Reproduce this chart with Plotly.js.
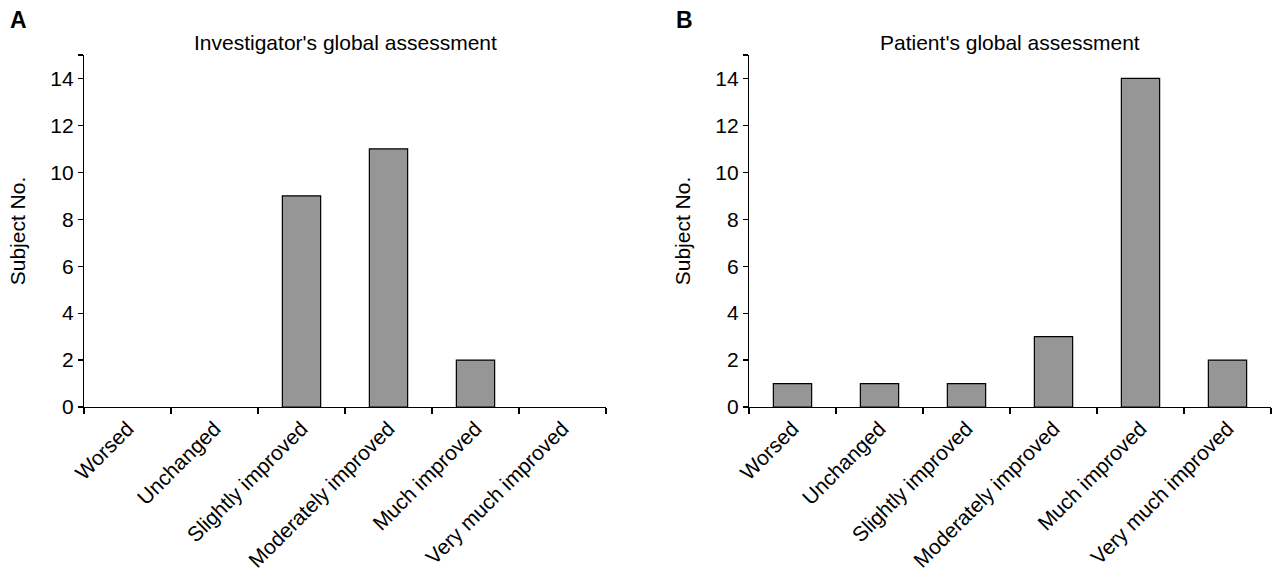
<!DOCTYPE html>
<html>
<head>
<meta charset="utf-8">
<script src="https://cdn.plot.ly/plotly-3.0.1.min.js"></script>
<style>html,body{margin:0;padding:0;background:#fff;}#chart{width:1276px;height:571px;}</style>
</head>
<body>
<div id="chart"></div>
<script>
const categories = ["Worsed", "Unchanged", "Slightly improved", "Moderately improved", "Much improved", "Very much improved"];
const investigatorValues = [0, 0, 9, 11, 2, 0];
const patientValues = [1, 1, 1, 3, 14, 2];
const yTickVals = [0, 2, 4, 6, 8, 10, 12, 14, 15];
const yTickText = ["0", "2", "4", "6", "8", "10", "12", "14", ""];
const panelTitles = ["Investigator's global assessment", "Patient's global assessment"];
const panelLetters = ["A", "B"];
const yTitle = "Subject No.";

const FONT = "Liberation Sans, Arial, sans-serif";
const FS = 21;
const barStyle = {color: "#969696", line: {color: "#000", width: 1.2}};
// zero-valued bars are not drawn in the original (no outline)
const hideZero = v => (v === 0 ? null : v);

const traces = [
  {type: "bar", x: categories, y: investigatorValues.map(hideZero), width: 0.44, marker: barStyle, xaxis: "x", yaxis: "y"},
  {type: "bar", x: categories, y: patientValues.map(hideZero), width: 0.44, marker: barStyle, xaxis: "x2", yaxis: "y2"}
];

function xax(domain, anchor) {
  return {
    domain: domain, anchor: anchor, type: "category",
    showline: true, linecolor: "#000", linewidth: 1.2,
    ticks: "outside", tickson: "boundaries", ticklen: 6, tickcolor: "#000", tickwidth: 1.2,
    tickangle: -45, tickfont: {family: FONT, size: FS, color: "#000"},
    showgrid: false, zeroline: false, fixedrange: true
  };
}
function yax(anchor) {
  return {
    domain: [0, 1], anchor: anchor, range: [0, 15],
    tickvals: yTickVals, ticktext: yTickText,
    showline: true, linecolor: "#000", linewidth: 1.2,
    ticks: "outside", ticklen: 5, tickcolor: "#000", tickwidth: 1.2,
    tickfont: {family: FONT, size: FS, color: "#000"},
    showgrid: false, zeroline: false, fixedrange: true,
    title: {text: yTitle, font: {family: FONT, size: FS, color: "#000"}, standoff: 18}
  };
}

const layout = {
  width: 1276, height: 571,
  margin: {l: 0, r: 0, t: 55, b: 164},
  paper_bgcolor: "#fff", plot_bgcolor: "#fff",
  showlegend: false, bargap: 0.5,
  font: {family: FONT, color: "#000"},
  xaxis: xax([84/1276, 606/1276], "y"),
  yaxis: yax("x"),
  xaxis2: xax([749/1276, 1271/1276], "y2"),
  yaxis2: yax("x2"),
  annotations: [
    {text: panelTitles[0], xref: "paper", yref: "paper", x: 345/1276, y: 1, yshift: 13, xanchor: "center", yanchor: "middle", showarrow: false, font: {family: FONT, size: FS, color: "#000"}},
    {text: panelTitles[1], xref: "paper", yref: "paper", x: 1010/1276, y: 1, yshift: 13, xanchor: "center", yanchor: "middle", showarrow: false, font: {family: FONT, size: FS, color: "#000"}},
    {text: "<b>" + panelLetters[0] + "</b>", xref: "paper", yref: "paper", x: 8/1276, y: 1, yshift: 35, xanchor: "left", yanchor: "middle", showarrow: false, font: {family: FONT, size: 23, color: "#000"}},
    {text: "<b>" + panelLetters[1] + "</b>", xref: "paper", yref: "paper", x: 674/1276, y: 1, yshift: 35, xanchor: "left", yanchor: "middle", showarrow: false, font: {family: FONT, size: 23, color: "#000"}}
  ]
};

Plotly.newPlot("chart", traces, layout, {displayModeBar: false, staticPlot: true});
</script>
</body>
</html>
